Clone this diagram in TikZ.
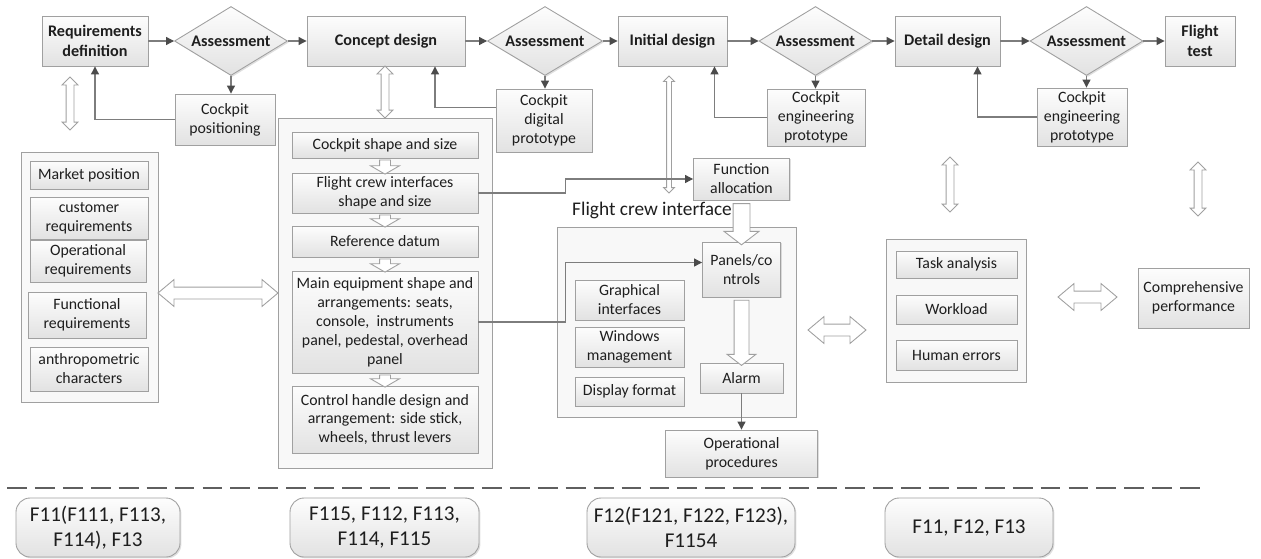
\documentclass[tikz,border=0pt]{standalone}
\usepackage{fontspec}
\setmainfont{Carlito}
\usetikzlibrary{calc,shapes.geometric,shapes.arrows,arrows.meta,shadows}
\definecolor{boxline}{RGB}{160,160,160}
\definecolor{boxtop}{RGB}{253,253,253}
\definecolor{boxbot}{RGB}{226,226,226}
\definecolor{groupfill}{RGB}{248,248,248}
\definecolor{flowline}{RGB}{125,125,125}
\definecolor{tipdark}{RGB}{75,75,75}
\definecolor{textdark}{RGB}{30,30,30}
\definecolor{dashgray}{RGB}{95,95,95}

\newcommand\pxu{0.02cm}
% hollow double arrow between two points
\newcommand\hollowpair[3][]{%
  \path let \p1=(#2), \p2=(#3), \n1={veclen(\x2-\x1,\y2-\y1)}, \n2={atan2(\y2-\y1,\x2-\x1)} in
    node[hollowdbl,minimum height=\n1,rotate=\n2,#1] at ($(#2)!0.5!(#3)$) {};}
% hollow single arrow from one point to another
\newcommand\hollowto[3][]{%
  \path let \p1=(#2), \p2=(#3), \n1={veclen(\x2-\x1,\y2-\y1)}, \n2={atan2(\y2-\y1,\x2-\x1)} in
    node[hollowone,minimum height=\n1,rotate=\n2,#1] at ($(#2)!0.5!(#3)$) {};}

\begin{document}
\begin{tikzpicture}[x=0.02cm,y=-0.02cm,
  every node/.style={text=textdark,font=\fontsize{9}{10.8}\selectfont},
  sz/.style 2 args={minimum width=#1*\pxu,minimum height=#2*\pxu},
  softbox/.style={draw=boxline,top color=boxtop,bottom color=boxbot,line width=0.5pt,
    align=center,inner sep=1pt,
    drop shadow={shadow xshift=0.8pt,shadow yshift=-0.8pt,opacity=0.25,fill=gray}},
  stagebox/.style={softbox,font=\fontsize{9.2}{11}\selectfont\bfseries},
  assess/.style={stagebox,diamond,aspect=1.64,inner sep=0pt},
  groupbox/.style={draw=boxline,fill=groupfill,line width=0.5pt,
    drop shadow={shadow xshift=0.8pt,shadow yshift=-0.8pt,opacity=0.2,fill=gray}},
  codebox/.style={softbox,rounded corners=8pt,font=\fontsize{12}{14.5}\selectfont},
  flow/.style={draw=flowline,line width=0.6pt,-{Triangle[length=4.5pt,width=4.5pt,color=tipdark]}},
  divider/.style={draw=dashgray,line width=1.5pt,dash pattern=on 11.3pt off 4.6pt},
  hollowdbl/.style={double arrow,draw=boxline,fill=white,line width=0.5pt,
    inner xsep=0pt,inner ysep=0.07cm,minimum width=0pt,
    double arrow head extend=0.08cm,double arrow tip angle=90},
  hollowone/.style={single arrow,draw=boxline,fill=white,line width=0.5pt,
    inner xsep=0pt,inner ysep=0.1cm,minimum width=0pt,
    single arrow head extend=0.18cm,single arrow tip angle=120},
  thinpair/.style={inner ysep=0.04cm,double arrow head extend=0.06cm},
  widepair/.style={inner ysep=0.11cm,double arrow head extend=0.15cm,double arrow tip angle=80},
  bigdown/.style={inner ysep=0.16cm,single arrow head extend=0.18cm,single arrow tip angle=105},
]
\useasboundingbox (0,0) rectangle (1261,558);

% ── STAGES ──────────────────────────────────────────────────────────────
\node[stagebox,sz={106}{50}] (req) at (95,41) {Requirements\\definition};
\node[assess,sz={113}{69}] (as1) at (231,41) {Assessment};
\node[stagebox,sz={158}{50}] (con) at (386,41) {Concept design};
\node[assess,sz={115}{69}] (as2) at (545,41) {Assessment};
\node[stagebox,sz={109}{50}] (ini) at (672.5,41) {Initial design};
\node[assess,sz={113}{69}] (as3) at (815.5,41) {Assessment};
\node[stagebox,sz={105}{50}] (det) at (947.5,41) {Detail design};
\node[assess,sz={113}{69}] (as4) at (1086.5,41) {Assessment};
\node[stagebox,sz={70}{50}] (fli) at (1200,41) {Flight\\test};

\foreach \a/\b in {req/as1,as1/con,con/as2,as2/ini,ini/as3,as3/det,det/as4,as4/fli}
  \draw[flow] (\a.east) -- (\b.west);

% ── PROTOTYPES (feedback) ────────────────────────────────────────────────
\node[softbox,sz={100}{51}] (cpos) at (225,119.5) {Cockpit\\positioning};
\node[softbox,sz={96}{63}] (cdig) at (544,120.5) {Cockpit\\digital\\prototype};
\node[softbox,sz={98}{57}] (ceng1) at (816,117.5) {Cockpit\\engineering\\prototype};
\node[softbox,sz={90}{58}] (ceng2) at (1082,117) {Cockpit\\engineering\\prototype};

\draw[flow] (as1.south) -- (as1.south |- cpos.north);
\draw[flow] (as2.south) -- (as2.south |- cdig.north);
\draw[flow] (as3.south) -- (as3.south |- ceng1.north);
\draw[flow] (as4.south) -- (as4.south |- ceng2.north);
\draw[flow] (cpos.west) -| (req.south);
\draw[flow] ($(cdig.west)+(0,-13)$) -| ($(con.south)+(49,0)$);
\draw[flow] (ceng1.west) -| ($(ini.south)+(42,0)$);
\draw[flow] (ceng2.west) -| ($(det.south)+(30,0)$);

% ── REQUIREMENTS GROUP ───────────────────────────────────────────────────
\node[groupbox,sz={137}{250}] (reqgrp) at (89.5,277) {};
\node[softbox,sz={118}{28}] (mkt) at (89,175) {Market position};
\node[softbox,sz={118}{42}] (cust) at (89,218) {customer\\requirements};
\node[softbox,sz={116}{42}] (oper) at (88,261) {Operational\\requirements};
\node[softbox,sz={118}{46}] (func) at (87,315) {Functional\\requirements};
\node[softbox,sz={118}{44}] (anth) at (89,369) {anthropometric\\characters};

% ── CONCEPT GROUP ────────────────────────────────────────────────────────
\node[groupbox,sz={214}{350}] (cgrp) at (385,293) {};
\node[softbox,sz={186}{26}] (cshape) at (385,145) {Cockpit shape and size};
\node[softbox,sz={186}{40}] (fcshape) at (385,193) {Flight crew interfaces\\shape and size};
\node[softbox,sz={186}{31}] (datum) at (385,241.5) {Reference datum};
\node[softbox,sz={186}{102}] (equip) at (385,322) {Main equipment shape and\\arrangements: seats,\\console,\ \ instruments\\panel, pedestal, overhead\\panel};
\node[softbox,sz={186}{67}] (handle) at (385,419.5) {Control handle design and\\arrangement: side stick,\\wheels, thrust levers};

\hollowto{cshape.south}{fcshape.north}
\hollowto{fcshape.south}{datum.north}
\hollowto{datum.south}{equip.north}
\hollowto{equip.south}{handle.north}

% ── FLIGHT CREW INTERFACE ────────────────────────────────────────────────
\coordinate (iniA) at (669,76);
\coordinate (iniB) at (669,193);
\hollowpair[thinpair]{iniA}{iniB}

\node[softbox,sz={96}{42}] (falloc) at (741.5,179) {Function\\allocation};
\node[anchor=west,font=\fontsize{11}{13}\selectfont] (fcilabel) at (566,210) {Flight crew interface};
\node[groupbox,sz={239}{190}] (fcigrp) at (676.5,322) {};
\node[softbox,sz={78}{55}] (panels) at (741.5,269.5) {Panels/co\\ntrols};
\node[softbox,sz={109}{40}] (graph) at (629.5,300) {Graphical\\interfaces};
\node[softbox,sz={109}{40}] (windows) at (629.5,347) {Windows\\management};
\node[softbox,sz={109}{29}] (dispfmt) at (629.5,391.5) {Display format};
\node[softbox,sz={83}{30}] (alarm) at (741.5,378) {Alarm};
\node[softbox,sz={152}{47}] (opproc) at (741.5,453.5) {Operational\\procedures};

\hollowto[bigdown]{falloc.south}{panels.north}
\hollowto[bigdown,inner ysep=0.14cm,single arrow head extend=0.14cm]{panels.south}{alarm.north}
\draw[flow] (alarm.south) -- (opproc.north);
\draw[flow] (fcshape.east) -- ++(87,0) |- (falloc.west);
\draw[flow] (equip.east) -- ++(87,0) |- ($(panels.west)+(0,-7)$);

% ── EVALUATION ───────────────────────────────────────────────────────────
\node[groupbox,sz={140}{143}] (taskgrp) at (956,310.5) {};
\node[softbox,sz={121}{27}] (task) at (956.5,264.5) {Task analysis};
\node[softbox,sz={121}{29}] (load) at (956.5,309.5) {Workload};
\node[softbox,sz={121}{30}] (herr) at (956.5,355) {Human errors};
\node[softbox,sz={111}{60}] (perf) at (1193.5,298) {Comprehensive\\performance};

% ── HOLLOW LINKS ─────────────────────────────────────────────────────────
\coordinate (reqA) at (70,77);
\coordinate (reqB) at (70,130);
\coordinate (conA) at (385,66);
\coordinate (conB) at (385,118);
\coordinate (detA) at (950,157);
\coordinate (detB) at (950,212);
\coordinate (fliA) at (1198,162);
\coordinate (fliB) at (1198,216);
\coordinate (grpA) at (158,293);
\coordinate (grpB) at (278,293);
\coordinate (fciA) at (808,330);
\coordinate (fciB) at (866,330);
\coordinate (perfA) at (1058,297);
\coordinate (perfB) at (1117,297);
\hollowpair{reqA}{reqB}
\hollowpair{conA}{conB}
\hollowpair{detA}{detB}
\hollowpair{fliA}{fliB}
\hollowpair[widepair]{grpA}{grpB}
\hollowpair[widepair]{fciA}{fciB}
\hollowpair[widepair]{perfA}{perfB}

% ── FUNCTION SETS ────────────────────────────────────────────────────────
\coordinate (dashL) at (7,488);
\coordinate (dashR) at (1207,488);
\draw[divider] (dashL) -- (dashR);

\node[codebox,sz={164}{59}] (fs1) at (98,527.5) {F11(F111, F113,\\F114), F13};
\node[codebox,sz={189}{59}] (fs2) at (384.5,527.5) {F115, F112, F113,\\F114, F115};
\node[codebox,sz={208}{59}] (fs3) at (691,527.5) {F12(F121, F122, F123),\\F1154};
\node[codebox,sz={168}{59}] (fs4) at (969,527.5) {F11, F12, F13};

\end{tikzpicture}
\end{document}
